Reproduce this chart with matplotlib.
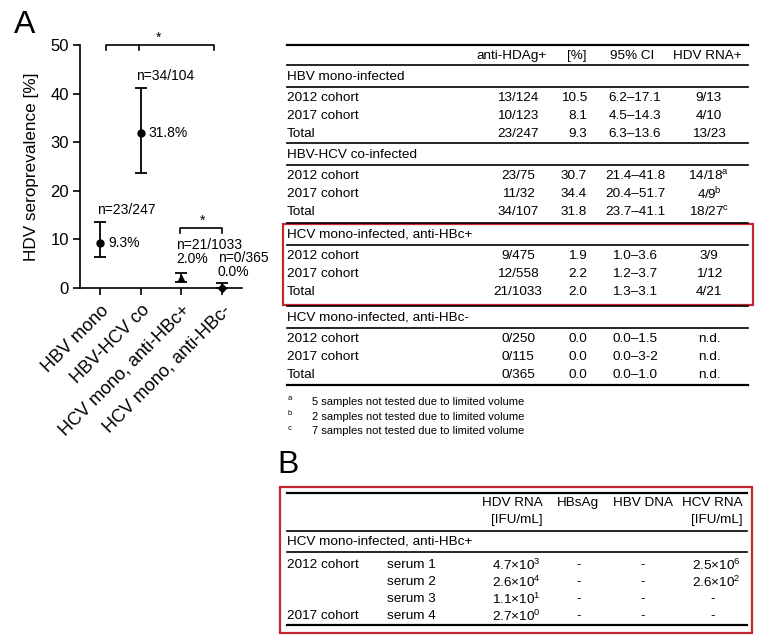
import matplotlib
matplotlib.use("Agg")
import matplotlib.pyplot as plt
from matplotlib.lines import Line2D
from matplotlib.patches import Rectangle

plt.rcParams['font.family'] = ['Liberation Sans', 'DejaVu Sans']
plt.rcParams['mathtext.fontset'] = 'custom'
plt.rcParams['mathtext.rm'] = 'Liberation Sans'
plt.rcParams['mathtext.it'] = 'Liberation Sans:italic'
plt.rcParams['mathtext.bf'] = 'Liberation Sans:bold'

# ---- data panel A plot
groups = ["HBV mono", "HBV-HCV co", "HCV mono, anti-HBc+", "HCV mono, anti-HBc-"]
prev = [9.3, 31.8, 2.0, 0.0]
ci_low = [6.3, 23.7, 1.3, 0.0]
ci_high = [13.6, 41.1, 3.1, 1.0]
counts = ["n=23/247", "n=34/104", "n=21/1033", "n=0/365"]
markers = ["o", "o", "^", "D"]

# ---- data panel A table
headA = ["anti-HDAg+", "[%]", "95% CI", "HDV RNA+"]
sections = ["HBV mono-infected", "HBV-HCV co-infected",
            "HCV mono-infected, anti-HBc+", "HCV mono-infected, anti-HBc-"]
row_names = ["2012 cohort", "2017 cohort", "Total"]
anti_hdag = [["13/124", "10/123", "23/247"],
             ["23/75", "11/32", "34/107"],
             ["9/475", "12/558", "21/1033"],
             ["0/250", "0/115", "0/365"]]
pct = [["10.5", "8.1", "9.3"],
       ["30.7", "34.4", "31.8"],
       ["1.9", "2.2", "2.0"],
       ["0.0", "0.0", "0.0"]]
ci95 = [["6.2\u201317.1", "4.5\u201314.3", "6.3\u201313.6"],
        ["21.4\u201341.8", "20.4\u201351.7", "23.7\u201341.1"],
        ["1.0\u20133.6", "1.2\u20133.7", "1.3\u20133.1"],
        ["0.0\u20131.5", "0.0\u20133-2", "0.0\u20131.0"]]
hdv_rna = [["9/13", "4/10", "13/23"],
           ["14/18$^{\\mathrm{a}}$", "4/9$^{\\mathrm{b}}$", "18/27$^{\\mathrm{c}}$"],
           ["3/9", "1/12", "4/21"],
           ["n.d.", "n.d.", "n.d."]]
foot_keys = ["a", "b", "c"]
foot_text = ["5 samples not tested due to limited volume",
             "2 samples not tested due to limited volume",
             "7 samples not tested due to limited volume"]

# ---- data panel B table
headB = [("HDV RNA", "[IFU/mL]"), ("HBsAg", ""), ("HBV DNA", ""), ("HCV RNA", "[IFU/mL]")]
sectionB = "HCV mono-infected, anti-HBc+"
cohortB = ["2012 cohort", "", "", "2017 cohort"]
serumB = ["serum 1", "serum 2", "serum 3", "serum 4"]
hdvB = ["4.7\u00d710$^{3}$", "2.6\u00d710$^{4}$", "1.1\u00d710$^{1}$", "2.7\u00d710$^{0}$"]
hbsagB = ["-", "-", "-", "-"]
hbvdnaB = ["-", "-", "-", "-"]
hcvB = ["2.5\u00d710$^{6}$", "2.6\u00d710$^{2}$", "-", "-"]

W, H = 761, 643
fig = plt.figure(figsize=(W / 100, H / 100), dpi=100)
red = "#c1272d"


def fx(x):
    return x / W


def fy(y):
    return 1 - y / H


def hline(y, x0, x1, lw=1.0):
    fig.add_artist(Line2D([fx(x0), fx(x1)], [fy(y), fy(y)], color="black", lw=lw,
                          transform=fig.transFigure))


def txt(x, y, s, ha="left", size=9.7, **kw):
    fig.text(fx(x), fy(y), s, ha=ha, va="center", fontsize=size, **kw)


# ================= panel A plot
ax = fig.add_axes([fx(80), fy(288), 162 / W, 243 / H])
for i in range(len(groups)):
    ax.errorbar(i, prev[i], yerr=[[prev[i] - ci_low[i]], [ci_high[i] - prev[i]]],
                fmt=markers[i], color="black", ms=5 if markers[i] != "D" else 4,
                capsize=4.5, elinewidth=1.3, capthick=1.3, clip_on=False, zorder=3)
ax.set_xlim(-0.5, 3.5)
ax.set_ylim(0, 50)
ax.set_yticks([0, 10, 20, 30, 40, 50])
ax.set_xticks(range(len(groups)))
ax.set_xticklabels(groups, rotation=45, ha="right", rotation_mode="anchor")
ax.tick_params(width=1.2, length=5)
ax.tick_params(axis="y", labelsize=12, pad=3)
ax.tick_params(axis="x", labelsize=13, pad=5)
for s in ["top", "right"]:
    ax.spines[s].set_visible(False)
for s in ["left", "bottom"]:
    ax.spines[s].set_linewidth(1.2)
ax.set_ylabel("HDV seroprevalence [%]", fontsize=12.3, labelpad=8)

# annotations
ax.text(-0.07, 16.0, counts[0], fontsize=10, va="center")
ax.text(0.2, prev[0], "9.3%", fontsize=10, va="center")
ax.text(0.88, 43.6, counts[1], fontsize=10, va="center")
ax.text(1.2, prev[1], "31.8%", fontsize=10, va="center")
ax.text(1.87, 8.9, counts[2], fontsize=10, va="center")
ax.text(1.87, 5.9, "2.0%", fontsize=10, va="center")
ax.text(2.9, 6.2, counts[3], fontsize=10, va="center", clip_on=False)
ax.text(2.9, 3.2, "0.0%", fontsize=10, va="center")

# significance brackets
ax.plot([0.15, 0.15, 2.8, 2.8], [49, 50, 50, 49], color="black", lw=1.2, clip_on=False)
ax.plot([0.96, 0.96], [50, 49], color="black", lw=1.2, clip_on=False)
ax.text(1.43, 50.0, "*", fontsize=10, ha="center", va="bottom")
ax.plot([1.97, 1.97, 3.0, 3.0], [11.3, 12.35, 12.35, 11.3], color="black", lw=1.2, clip_on=False)
ax.text(2.53, 12.4, "*", fontsize=10, ha="center", va="bottom")

fig.text(fx(14), fy(33), "A", fontsize=23, ha="left", va="baseline")
fig.text(fx(277), fy(473), "B", fontsize=23, ha="left", va="baseline")

# ================= panel A table
xL = 287
xR = 748
hline(44.7, xL, xR, lw=1.6)
txt(512, 56, headA[0], ha="center")
txt(587, 56, headA[1], ha="right")
txt(632, 56, headA[2], ha="center")
txt(707, 56, headA[3], ha="center")
sec_y = [77, 155, 235, 318]
row_off = [21, 39, 57]
for k, sname in enumerate(sections):
    y0 = sec_y[k]
    hline(y0 - 12, xL, xR, lw=1.2)
    txt(xL, y0, sname)
    hline(y0 + 10, xL, xR, lw=1.2)
    for r in range(3):
        yr = y0 + row_off[r]
        txt(xL, yr, row_names[r])
        txt(518, yr, anti_hdag[k][r], ha="center")
        txt(587, yr, pct[k][r], ha="right")
        txt(635, yr, ci95[k][r], ha="center")
        txt(709, yr, hdv_rna[k][r], ha="center")
hline(sec_y[-1] + 67, xL, xR, lw=1.6)

fig.add_artist(Rectangle((fx(283), fy(305)), fx(753) - fx(283), fy(224) - fy(305),
                         fill=False, edgecolor=red, lw=1.6, transform=fig.transFigure))

for i in range(3):
    yfn = 402 + 14.5 * i
    txt(288, yfn - 3, foot_keys[i], size=5.5)
    txt(312, yfn, foot_text[i], size=8)

# ================= panel B table
xL2, xR2 = 287, 747
hline(493, xL2, xR2, lw=1.6)
txt(543, 503, headB[0][0], ha="right")
txt(543, 520, headB[0][1], ha="right")
txt(578, 503, headB[1][0], ha="center")
txt(643, 503, headB[2][0], ha="center")
txt(743, 503, headB[3][0], ha="right")
txt(743, 520, headB[3][1], ha="right")
hline(531, xL2, xR2, lw=1.2)
txt(xL2, 542, sectionB)
hline(552, xL2, xR2, lw=1.2)
for r in range(4):
    yr = 565 + 17 * r
    txt(xL2, yr, cohortB[r])
    txt(387, yr, serumB[r])
    txt(541, yr, hdvB[r], ha="right")
    txt(579, yr, hbsagB[r], ha="center")
    txt(643, yr, hbvdnaB[r], ha="center")
    if hcvB[r] == "-":
        txt(713, yr, hcvB[r], ha="center")
    else:
        txt(741, yr, hcvB[r], ha="right")
hline(625, xL2, xR2, lw=1.6)
fig.add_artist(Rectangle((fx(280), fy(633)), fx(752) - fx(280), fy(487) - fy(633),
                         fill=False, edgecolor=red, lw=1.6, transform=fig.transFigure))

fig.savefig("out.png", dpi=100)
